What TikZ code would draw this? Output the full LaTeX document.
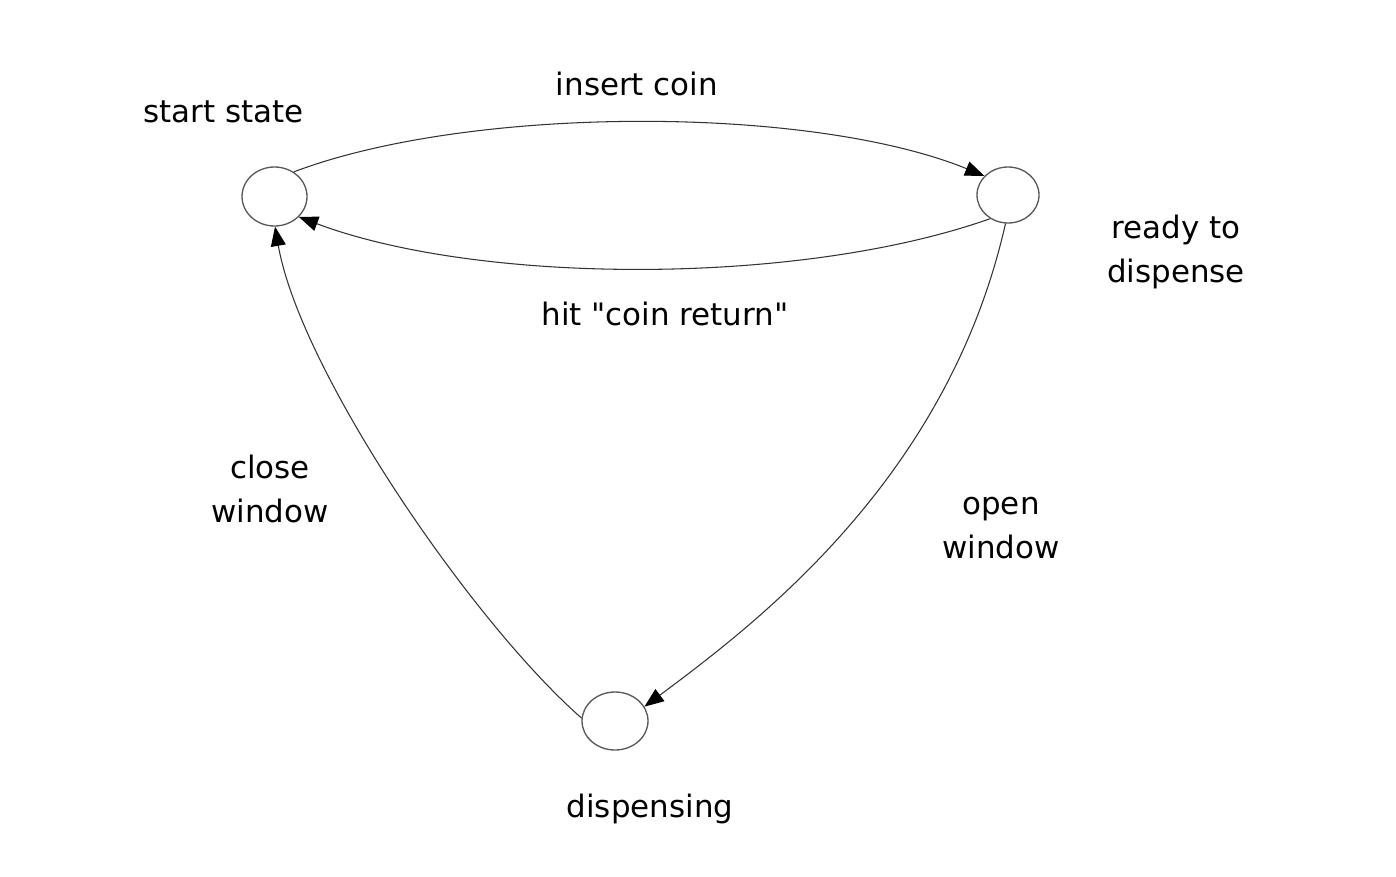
\documentclass[tikz,border=0pt]{standalone}
\usepackage{fontspec}
\setmainfont{DejaVu Sans}[Ligatures=TeXOff]
\usetikzlibrary{shapes.geometric,arrows.meta}
\begin{document}
\begin{tikzpicture}[x=0.02cm,y=-0.02cm,
  state/.style={ellipse,draw=black!65,line width=0.75pt,inner sep=0pt},
  edge/.style={draw=black!80,line width=0.6pt,-{Triangle[length=11pt,width=8.5pt,color=black]}},
  lbl/.style={font=\fontsize{17.6pt}{25pt}\selectfont,align=center,inner sep=0pt,anchor=base}]
\useasboundingbox[fill=white] (0,0) rectangle (1396,876);
% states
\node[state,minimum width=1.3cm,minimum height=1.18cm] (s) at (274.5,196.5) {};
\node[state,minimum width=1.24cm,minimum height=1.12cm] (r) at (1008,195) {};
\node[state,minimum width=1.32cm,minimum height=1.16cm] (d) at (615,721) {};
% labels (base = baseline of the last line)
\node[lbl] (ls) at (223.5,122) {start state};
\node[lbl] (lr) at (1176,282) {ready to\\dispense};
\node[lbl] (ld) at (650,817) {dispensing};
\node[lbl] (li) at (637,95) {insert coin};
\node[lbl] (lh) at (665,325) {hit "coin return"};
\node[lbl] (lc) at (270,522) {close\\window};
\node[lbl] (lo) at (1001,558) {open\\window};
% transitions
\draw[edge] (s.52) .. controls (470,105) and (810,105) .. (r.141);
\draw[edge] (r.233) .. controls (800,286) and (480,285) .. (s.320);
\draw[edge] (r.265) .. controls (948,478) and (758,622) .. (d.26);
\draw[edge] (d.175) .. controls (470,620) and (300,370) .. (s.271);
\end{tikzpicture}
\end{document}
